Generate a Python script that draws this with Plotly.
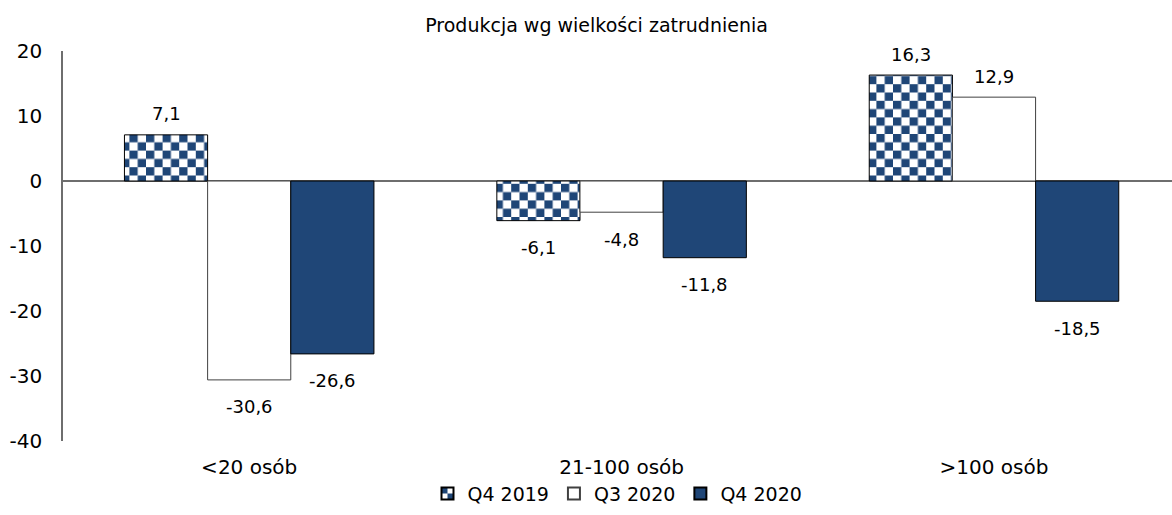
import plotly.graph_objects as go

categories = ["<20 osób", "21-100 osób", ">100 osób"]
series_names = ["Q4 2019", "Q3 2020", "Q4 2020"]
q4_2019 = [7.1, -6.1, 16.3]
q3_2020 = [-30.6, -4.8, 12.9]
q4_2020 = [-26.6, -11.8, -18.5]
y_ticks = [20, 10, 0, -10, -20, -30, -40]

BLUE = "#1F4677"
FONT = "DejaVu Sans"
BARGAP = 0.33

all_series = [q4_2019, q3_2020, q4_2020]
styles = [
    dict(color="white", pattern=dict(shape="x", fgcolor=BLUE, bgcolor="white", size=16, solidity=0.5),
         line=dict(color="#000000", width=1)),
    dict(color="white", line=dict(color="#404040", width=1)),
    dict(color=BLUE, line=dict(color="#000000", width=1)),
]

fig = go.Figure()
for name, vals, st in zip(series_names, all_series, styles):
    fig.add_trace(go.Bar(x=list(range(len(categories))), y=vals, name=name, marker=st))

# value labels as annotations positioned on the axis scale
bw = (1 - BARGAP) / len(all_series)
for si, vals in enumerate(all_series):
    off = (si - (len(all_series) - 1) / 2) * bw
    for ci, v in enumerate(vals):
        fig.add_annotation(
            x=ci + off, y=v, xref="x", yref="y",
            text=f"{v:.1f}".replace(".", ","),
            showarrow=False, yanchor="middle",
            yshift=21 if v >= 0 else -27,
            font=dict(family=FONT, size=18, color="#000000"),
        )

fig.update_layout(
    width=1172, height=515,
    margin=dict(l=63, r=0, t=51, b=74, autoexpand=False),
    paper_bgcolor="white", plot_bgcolor="white",
    barmode="group", bargap=BARGAP, bargroupgap=0,
    separators=", ",
    font=dict(family=FONT, size=18, color="#000000"),
    title=dict(text="Produkcja wg wielkości zatrudnienia", x=0.509, xanchor="center",
               y=0.951, yanchor="middle", font=dict(family=FONT, size=19, color="#000000")),
    showlegend=True,
    legend=dict(orientation="h", x=0.5, xanchor="center", y=-0.135, yanchor="middle",
                font=dict(family=FONT, size=19), itemwidth=30, tracegroupgap=0,
                itemsizing="constant"),
    xaxis=dict(range=[-0.5, 2.478], tickmode="array", tickvals=list(range(len(categories))),
               ticktext=categories, showline=False, showgrid=False, zeroline=False,
               automargin=False, ticks="", ticklabelstandoff=12,
               tickfont=dict(family=FONT, size=20)),
    yaxis=dict(range=[-40, 20], tickmode="array", tickvals=y_ticks,
               ticktext=[str(t) for t in y_ticks], showgrid=False, showline=True,
               linecolor="#6e6e6e", linewidth=1.5, zeroline=True, zerolinecolor="#6e6e6e",
               zerolinewidth=1.5, ticks="", ticklabelstandoff=15, automargin=False,
               tickfont=dict(family=FONT, size=20)),
)

post = """
document.body.style.margin = '0';
var gd = document.getElementById('{plot_id}');
function checker(){
  var s = 16.6, h = s/2, c = '%s';
  gd.querySelectorAll('pattern').forEach(function(p){
    p.setAttribute('width', s); p.setAttribute('height', s);
    p.setAttribute('patternUnits', 'userSpaceOnUse');
    p.innerHTML = '<rect x="0" y="0" width="'+s+'" height="'+s+'" fill="#ffffff"/>' +
      '<rect x="0" y="0" width="'+h+'" height="'+h+'" fill="'+c+'"/>' +
      '<rect x="'+h+'" y="'+h+'" width="'+h+'" height="'+h+'" fill="'+c+'"/>';
  });
}
checker();
gd.on('plotly_afterplot', checker);
""" % BLUE

fig.write_html("out.html", post_script=post, config={"displayModeBar": False})
